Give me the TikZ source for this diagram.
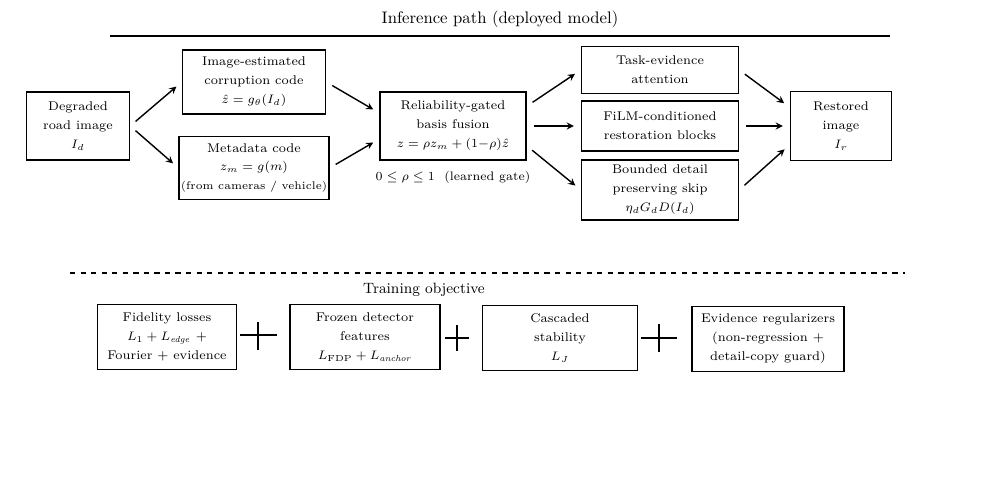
\documentclass[tikz,border=0pt]{standalone}
\usepackage{amsmath,amssymb}
\tikzset{
  box/.style={draw, thick, align=center, font=\fontsize{7.2}{10.8}\selectfont, inner sep=1pt},
  flow/.style={->, thick, shorten >=4pt, shorten <=4pt},
  plus/.style={thick}
}
\begin{document}
\begin{tikzpicture}[>=stealth, x=0.2mm, y=-0.2mm]
\useasboundingbox (0,0) rectangle (1000,479);
% inference path
\node at (500,19) {\fontsize{9.5}{11}\selectfont Inference path (deployed model)};
\draw [thick] (110,36)--(890,36);
\node [box, minimum width=20.6mm, minimum height=13.6mm] (deg) at (78,126) {Degraded\\road image\\$I_d$};
\node [box, minimum width=28.6mm, minimum height=12.8mm] (est) at (254,82) {Image-estimated\\corruption code\\$\hat z = g_\theta(I_d)$};
\node [box, minimum width=28.6mm, minimum height=12.6mm] (meta) at (254,168) {Metadata code\\$z_m = g(m)$\\{\fontsize{6.3}{8}\selectfont (from cameras / vehicle)}};
\node [box, minimum width=29.2mm, minimum height=13.6mm] (rel) at (453,126) {Reliability-gated\\basis fusion\\$z = \rho z_m + (1{-}\rho)\hat z$};
\node [font=\fontsize{7}{9}\selectfont] (gate) at (453,177) {$0 \le \rho \le 1$\ \ (learned gate)};
\node [box, minimum width=31.4mm, minimum height=9.4mm] (task) at (660,70) {Task-evidence\\attention};
\node [box, minimum width=31.4mm, minimum height=10mm] (film) at (660,126) {FiLM-conditioned\\restoration blocks};
\node [box, minimum width=31.4mm, minimum height=12mm] (bound) at (660,190) {Bounded detail\\preserving skip\\$\eta_d G_d D(I_d)$};
\node [box, minimum width=20.2mm, minimum height=13.8mm] (rest) at (841,126) {Restored\\image\\$I_r$};
\draw [flow] (deg.east)--(est.west);
\draw [flow] (deg.east)--(meta.west);
\draw [flow] (est.east)--(rel.170);
\draw [flow] (meta.east)--(rel.190);
\draw [flow] (rel.15)--(task.west);
\draw [flow] (rel.east)--(film.west);
\draw [flow] (rel.-15)--(bound.west);
\draw [flow] (task.east)--(rest.160);
\draw [flow] (film.east)--(rest.west);
\draw [flow] (bound.east)--(rest.200);
% training objective
\draw [thick, dashed] (70,273)--(905,273);
\node at (424,290) {\fontsize{8.5}{10}\selectfont Training objective};
\node [box, minimum width=27.8mm, minimum height=13mm] (fid) at (167,337) {Fidelity losses\\$L_1 + L_{\mathit{edge}}$ +\\Fourier + evidence};
\node [box, minimum width=30mm, minimum height=13mm] (fdp) at (365,337) {Frozen detector\\features\\$L_{\mathrm{FDP}} + L_{\mathit{anchor}}$};
\node [box, minimum width=31mm, minimum height=13mm] (casc) at (560,338) {Cascaded\\stability\\$L_J$};
\node [box, minimum width=30.4mm, minimum height=13mm] (evid) at (768,339) {Evidence regularizers\\(non-regression +\\detail-copy guard)};
\draw [plus] (240,335)--(277,335) (258,322)--(258,350);
\draw [plus] (445,338)--(469,338) (457,325)--(457,351);
\draw [plus] (641,338)--(677,338) (659,324)--(659,352);
\end{tikzpicture}
\end{document}
